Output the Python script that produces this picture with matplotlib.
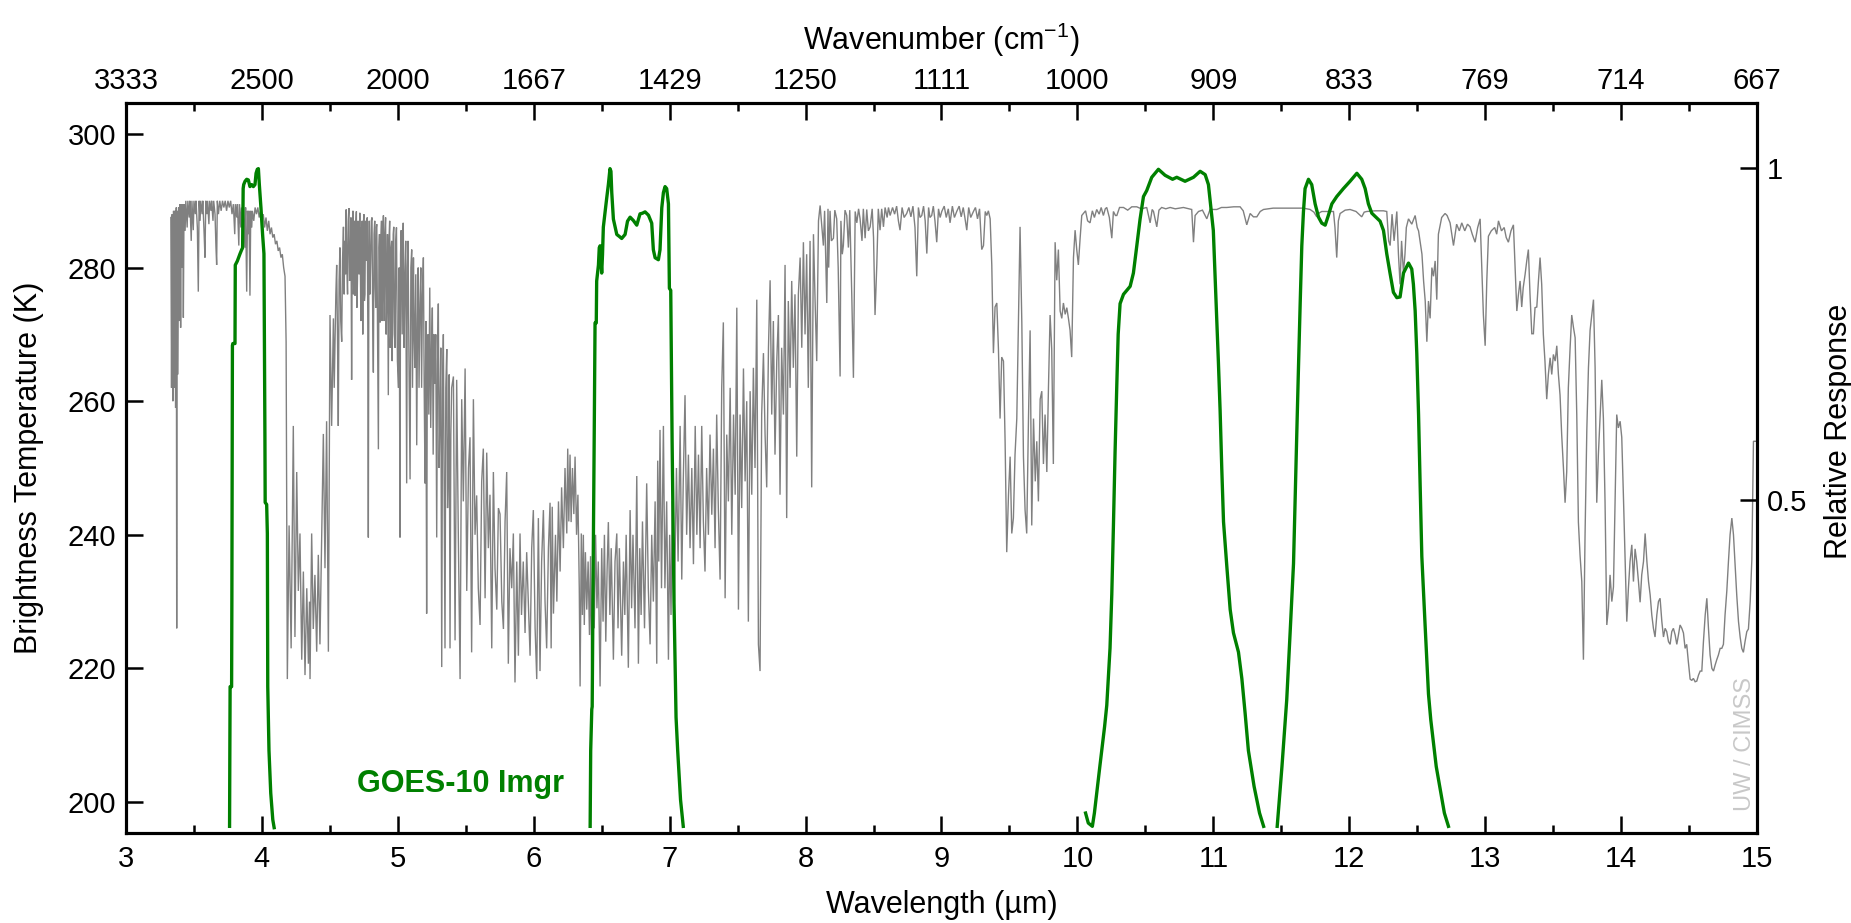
import matplotlib
matplotlib.use("Agg")
import matplotlib.pyplot as plt
from matplotlib.ticker import MultipleLocator, FixedLocator

plt.rcParams['font.family'] = ['Liberation Sans', 'DejaVu Sans']
plt.rcParams['mathtext.fontset'] = 'custom'
plt.rcParams['mathtext.rm'] = 'Liberation Sans'
plt.rcParams['mathtext.default'] = 'regular'

# ---------------- data ----------------
# brightness temperature spectrum (wavelength um, K), by spectral region
bt_swir = [(3.330,287.5),(3.335,262),(3.340,288),(3.345,260),(3.350,288.5),(3.355,262),(3.360,288.5),(3.365,259),(3.370,289),(3.373,226),(3.376,288.5),(3.382,264),(3.387,289),(3.392,272),(3.397,289.5),(3.402,271),(3.407,289.5),(3.413,280),(3.418,289.5),(3.422,272.5),(3.427,289.5),(3.435,285.5),(3.440,290),(3.450,286),(3.455,290),(3.465,287.5),(3.470,290),(3.480,284),(3.485,290),(3.495,285.6),(3.500,290),(3.510,288),(3.515,290),(3.525,286),(3.532,276.4),(3.538,290),(3.545,287),(3.550,290),(3.560,288),(3.565,290),(3.575,285),(3.581,281.5),(3.587,290),(3.595,288),(3.600,290),(3.610,286.5),(3.615,290),(3.625,288.5),(3.630,290),(3.640,287),(3.645,290),(3.655,288),(3.662,283),(3.667,280.4),(3.672,290),(3.680,288),(3.690,290),(3.700,288.5),(3.710,290),(3.720,289),(3.730,290),(3.740,288.5),(3.750,290),(3.760,289),(3.770,290),(3.780,288),(3.790,289.5),(3.800,285),(3.805,289.5),(3.815,287.5),(3.820,289.5),(3.830,283.3),(3.835,289.5),(3.845,286),(3.850,289),(3.860,284),(3.865,289),(3.875,283),(3.880,289),(3.888,276.4),(3.894,288.5),(3.900,285),(3.905,288.5),(3.912,275.8),(3.918,288.5),(3.925,286),(3.930,288.5),(3.940,287),(3.950,289),(3.960,288),(3.970,289),(3.980,287.5),(3.990,288.5),(4.000,287),(4.010,288),(4.020,286),(4.030,287.5),(4.040,285.5),(4.050,287),(4.060,285),(4.070,286),(4.080,284.5),(4.090,285),(4.100,283.5),(4.110,284),(4.120,282.5),(4.130,283),(4.140,281.5),(4.150,282),(4.160,280),(4.170,278.7),(4.178,268.9)]
bt_co2_43 = [(4.187,218.4),(4.200,241.4),(4.215,223),(4.231,256.3),(4.243,224.7),(4.256,249.4),(4.268,231.6),(4.280,240.2),(4.293,221.3),(4.305,234.5),(4.317,219),(4.330,232),(4.342,220.7),(4.350,230),(4.354,218.4),(4.366,240.2),(4.378,225.9),(4.390,234),(4.403,222.5),(4.415,237),(4.427,223.6),(4.440,240),(4.452,255.1),(4.464,235),(4.476,257),(4.489,222.5),(4.501,272.9),(4.513,256.3)]
bt_mwir = [(4.526,272.4),(4.532,262),(4.538,269),(4.544,276),(4.550,280.4),(4.556,270),(4.562,256.3),(4.568,278),(4.574,283),(4.580,272),(4.587,268.9),(4.593,281),(4.600,286.1),(4.605,276),(4.610,284),(4.615,279),(4.620,288.7),(4.625,280),(4.630,276),(4.635,287),(4.640,288.9),(4.645,278),(4.650,280),(4.655,287.5),(4.660,263.2),(4.665,286),(4.670,288.5),(4.674,276),(4.678,279),(4.682,287),(4.685,275.8),(4.690,286),(4.695,288.4),(4.699,274),(4.703,278),(4.707,287),(4.710,286.5),(4.715,279),(4.720,288.2),(4.724,281),(4.728,272),(4.731,286),(4.735,283),(4.738,287),(4.742,270),(4.746,286),(4.750,288),(4.754,275),(4.758,276),(4.762,287),(4.765,281),(4.770,286),(4.775,287.5),(4.779,272),(4.783,239.6),(4.787,282),(4.790,287),(4.795,276),(4.800,281),(4.805,287),(4.810,287.5),(4.815,273),(4.820,264.3),(4.825,285),(4.830,287),(4.834,277),(4.838,274),(4.842,286),(4.845,286.5),(4.851,270),(4.857,252.8),(4.861,283),(4.865,285),(4.870,271.8),(4.875,284),(4.880,287),(4.884,272),(4.887,276),(4.891,286),(4.894,287.8),(4.900,272),(4.905,285),(4.910,287.5),(4.914,270),(4.918,275),(4.924,285),(4.930,260.9),(4.935,284),(4.940,287),(4.944,268),(4.947,270),(4.951,283),(4.955,284),(4.958,266),(4.962,272),(4.966,285),(4.970,286.1),(4.975,270),(4.980,268),(4.985,284),(4.990,286),(4.997,266),(5.005,262),(5.010,280),(5.016,239.6),(5.020,282),(5.025,285.6),(5.032,270),(5.036,284),(5.040,286.7),(5.046,268),(5.052,278.7),(5.058,284),(5.065,247.7),(5.070,280),(5.075,284),(5.082,266),(5.090,248.3),(5.096,280),(5.102,282.7),(5.108,262),(5.115,281.5),(5.120,270),(5.125,265),(5.132,279),(5.139,253.4),(5.145,272),(5.150,280),(5.156,262),(5.163,274.6),(5.169,280),(5.175,262),(5.181,276),(5.188,281.5),(5.194,262),(5.200,247.7),(5.206,272),(5.212,228.2),(5.217,266),(5.222,270),(5.228,258),(5.235,277),(5.242,256),(5.249,268.9),(5.254,274),(5.260,252),(5.266,270),(5.272,262.6),(5.279,270),(5.286,239.6),(5.292,266),(5.298,274.6),(5.304,250),(5.310,258),(5.316,268),(5.323,220.2),(5.329,262),(5.335,270),(5.341,246),(5.347,223),(5.353,262),(5.360,267.8),(5.366,244),(5.372,250),(5.378,264),(5.384,223),(5.390,255),(5.396,262)]
bt_h2o_wing = [(5.409,263.7),(5.421,224.2),(5.433,263.2),(5.445,240),(5.458,218.4),(5.470,260.3),(5.482,245),(5.495,264.9),(5.507,231.6),(5.520,250),(5.531,254.6),(5.543,222.4),(5.556,260.3),(5.568,240),(5.580,245.9),(5.592,232),(5.605,226.5),(5.617,248),(5.629,252.9),(5.642,230.5),(5.654,252.3),(5.666,238),(5.678,246),(5.691,223),(5.703,249.4),(5.715,235),(5.728,228.8),(5.740,244),(5.752,243.1),(5.765,230),(5.777,225.9),(5.789,242),(5.801,249.4),(5.813,220.7),(5.825,238),(5.838,232),(5.850,240.2),(5.862,217.9),(5.875,236),(5.887,221.9),(5.899,240.2),(5.910,228),(5.923,236),(5.936,225.3),(5.948,237.4),(5.960,230),(5.973,221.9),(5.985,238),(5.997,243.7),(6.010,226),(6.022,218.4),(6.034,242.5),(6.046,219.6),(6.058,236),(6.071,243.7),(6.083,230),(6.095,223),(6.108,238)]
bt_h2o_band = [(6.120,244.8),(6.128,223),(6.136,244.2),(6.145,228.2),(6.160,240),(6.170,230),(6.182,245),(6.194,234.5),(6.205,247.1),(6.218,238),(6.230,250),(6.243,240.2),(6.250,252.9),(6.258,242),(6.267,252),(6.275,241.9),(6.285,250),(6.295,243.1),(6.304,251.7),(6.315,240),(6.325,246),(6.335,232),(6.341,217.3),(6.350,240.2),(6.358,228),(6.365,240),(6.372,226.5),(6.380,237.4),(6.390,228.8),(6.400,236),(6.410,225),(6.418,236.8),(6.427,217.9),(6.435,238),(6.445,226),(6.455,240),(6.465,229),(6.475,236),(6.488,217.3),(6.500,238),(6.510,227),(6.520,240),(6.530,224),(6.540,235),(6.549,241.9),(6.560,228),(6.570,238),(6.586,221.3),(6.598,236),(6.611,240.2),(6.620,226),(6.630,238),(6.647,221.9),(6.660,236),(6.670,228),(6.680,240),(6.696,220.1),(6.709,243.7),(6.720,229),(6.730,240),(6.745,226),(6.758,248.8),(6.770,220.7),(6.780,238),(6.790,228),(6.800,242),(6.815,226),(6.831,247.7),(6.843,232),(6.856,223.6),(6.868,240),(6.880,230),(6.893,245),(6.905,220.7),(6.912,251.1),(6.920,236),(6.929,255.7),(6.940,232),(6.954,256.3),(6.965,232),(6.978,245),(6.991,221.3),(7.000,240),(7.010,228)]
bt_window_rise = [(7.020,245),(7.035,230),(7.050,250),(7.062,236),(7.077,256.3),(7.089,233.3),(7.100,248),(7.113,260.9),(7.125,240),(7.138,252),(7.150,238),(7.163,250),(7.175,235.6),(7.188,256.3),(7.200,240),(7.212,252),(7.224,238),(7.236,256.3),(7.248,242),(7.260,234.5),(7.272,250),(7.285,240),(7.297,255),(7.310,243),(7.322,252.9),(7.334,238),(7.346,258),(7.358,244),(7.371,233.3),(7.383,262),(7.395,271.8),(7.408,230.5),(7.420,255),(7.432,245),(7.445,262),(7.457,240),(7.470,258),(7.482,246),(7.494,274),(7.506,228.8),(7.518,258),(7.530,244),(7.543,264.9),(7.555,248),(7.567,260),(7.579,227),(7.592,261.5),(7.604,246),(7.616,265),(7.628,250),(7.641,275.2),(7.653,223.6),(7.665,219.6),(7.677,258),(7.690,267.2),(7.702,255),(7.714,247.1),(7.727,268),(7.739,278.1),(7.751,258),(7.763,272),(7.775,252),(7.788,266),(7.800,272.9),(7.812,246),(7.824,268),(7.837,258),(7.849,280.4),(7.861,242.5),(7.873,275),(7.886,262),(7.898,278),(7.910,265),(7.922,276),(7.935,251.7),(7.947,276),(7.960,281.5),(7.972,268),(7.984,283.8),(7.996,270),(8.008,282),(8.020,262),(8.033,284),(8.045,247.1),(8.058,285),(8.070,275),(8.082,266),(8.095,287),(8.107,289.3)]
bt_window = [(8.120,286),(8.131,283.3),(8.140,288.5),(8.156,274.7),(8.165,288.8),(8.170,280),(8.180,288.5),(8.190,284),(8.205,284.4),(8.215,288.6),(8.229,287.3),(8.240,280),(8.254,263.7),(8.260,287),(8.270,282),(8.278,283.3),(8.290,288.6),(8.303,287.8),(8.315,283),(8.325,288.6),(8.340,275.8),(8.352,263.5),(8.365,288.4),(8.377,286.7),(8.390,288.8),(8.401,287.3),(8.415,284),(8.425,288.8),(8.438,284.4),(8.450,288.7),(8.462,285.5),(8.475,286.1),(8.490,288.8),(8.500,284.5),(8.511,272.9),(8.524,280.4),(8.535,288.8),(8.548,285.6),(8.560,288.8),(8.573,286.1),(8.585,289),(8.600,287.5),(8.610,289),(8.622,287.8),(8.640,289),(8.655,288),(8.670,289.2),(8.683,287),(8.695,285.6),(8.710,289),(8.725,287.5),(8.744,288.1),(8.760,289),(8.775,287.6),(8.790,289.2),(8.805,286),(8.818,278.7),(8.830,289),(8.842,287.5),(8.855,287.8),(8.868,289.2),(8.880,287),(8.892,282.1),(8.905,289),(8.915,287.5),(8.928,287.8),(8.940,289.2),(8.952,287),(8.965,283.8),(8.978,288.8),(8.990,287.5),(9.002,288.4),(9.020,289.2),(9.035,287.5),(9.050,288.8),(9.063,286.7),(9.080,289.2),(9.095,287.5),(9.112,288.4),(9.130,289.2),(9.145,287.6),(9.160,289),(9.172,287.5),(9.186,285.6),(9.200,289),(9.215,287.5),(9.235,288.4),(9.250,289),(9.265,287.3),(9.280,288.8),(9.296,282.7),(9.309,283.3),(9.322,288.4),(9.333,287.8),(9.345,288.5),(9.358,287.3)]
bt_ozone = [(9.370,280.4),(9.382,267.2),(9.394,274.1),(9.407,274.7),(9.419,267.8),(9.431,257.4),(9.443,266.6),(9.456,266),(9.468,254),(9.480,237.4),(9.493,246),(9.505,251.7),(9.517,240.2),(9.529,242.5),(9.541,252),(9.554,257.4),(9.566,271.8),(9.578,286.1),(9.591,271.8),(9.603,251.7),(9.615,243.7),(9.627,240.2),(9.640,257.4),(9.652,270.6),(9.664,241.4),(9.677,257.4),(9.690,248),(9.701,254),(9.713,245),(9.726,260.3),(9.738,261.5),(9.750,250.6),(9.762,258),(9.775,249.4),(9.787,262),(9.799,272.9),(9.811,267.8),(9.823,250.6),(9.836,283.8),(9.848,278.1),(9.860,282.7),(9.873,273.5),(9.885,272.4),(9.897,274.7),(9.910,273),(9.922,274),(9.934,272.4),(9.946,270.6),(9.958,266.6),(9.971,281.5),(9.983,285.6),(9.995,282.7),(10.007,280.4),(10.020,284.4),(10.032,287.8),(10.044,288.1)]
bt_window_long = [(10.060,288.5),(10.075,287),(10.093,286.7),(10.110,288.5),(10.125,287.5),(10.142,288.7),(10.160,288),(10.175,289),(10.191,287.8),(10.205,288.8),(10.216,289),(10.235,287.5),(10.253,284.4),(10.265,288.4),(10.280,287.8),(10.290,287.8),(10.310,289),(10.339,289),(10.370,288.6),(10.400,289.1),(10.437,289.1),(10.470,288.8),(10.510,289),(10.535,286.7),(10.550,288.7),(10.560,288.4),(10.584,286.1),(10.600,288.6),(10.620,289),(10.650,288.8),(10.682,289),(10.720,288.8),(10.780,289),(10.820,288.8),(10.841,288.7),(10.854,283.8),(10.866,287.8),(10.891,288.4),(10.920,288.6),(10.952,287.3),(10.976,288.7),(11.025,288.7),(11.060,289),(11.099,289),(11.150,289.1),(11.197,289.1),(11.220,288.5),(11.246,286.4),(11.271,288.1),(11.295,287.6),(11.320,287.6),(11.345,288.4),(11.369,288.7),(11.440,288.9),(11.516,288.9),(11.590,288.9),(11.663,288.9),(11.712,288.7),(11.740,288.3),(11.761,287.6),(11.780,288.2),(11.798,288.4),(11.840,288.4),(11.884,288.4),(11.895,286),(11.908,281.5),(11.920,287),(11.933,288.1),(11.970,288.6),(12.006,288.7),(12.050,288.4),(12.092,287.6),(12.110,288.3),(12.129,288.4),(12.190,288.5),(12.252,288.5),(12.276,288.4)]
bt_split = [(12.290,284),(12.301,283.3),(12.315,288),(12.330,284),(12.350,288.4),(12.362,282),(12.374,277.5),(12.385,284),(12.399,279.2),(12.410,282),(12.420,286),(12.436,287.3),(12.460,286.5),(12.485,287.8),(12.500,286),(12.510,285.5),(12.522,283.8),(12.535,282),(12.547,278),(12.559,275),(12.571,268.9),(12.583,275),(12.595,272.4),(12.608,280),(12.620,278.7),(12.632,281),(12.644,275.2),(12.656,285),(12.680,287.5),(12.705,288.1),(12.720,287.8),(12.742,286.7)]
bt_co2_15 = [(12.767,283.3),(12.790,286.5),(12.810,285.5),(12.828,286.7),(12.850,285.5),(12.870,286.5),(12.889,286.1),(12.905,285),(12.926,283.8),(12.945,286),(12.963,287.3),(12.975,280),(12.987,272.9),(13.000,268.3),(13.012,278),(13.024,284.7),(13.045,285.5),(13.070,286),(13.085,285),(13.098,287),(13.120,285.5),(13.140,286),(13.155,284.5),(13.171,283.8),(13.190,285.5),(13.208,286.4),(13.220,280),(13.233,273.5),(13.245,276),(13.257,278),(13.269,274.1),(13.280,277),(13.294,279),(13.306,281),(13.318,282.7),(13.330,276),(13.343,270.1),(13.355,270.1),(13.367,274),(13.380,274.1),(13.392,278),(13.404,281.5),(13.416,277.5),(13.428,270),(13.440,266),(13.453,260.3),(13.465,264),(13.478,266.5),(13.490,264),(13.502,267),(13.515,266),(13.527,268.3),(13.539,264),(13.551,260.9),(13.563,255),(13.576,250),(13.588,244.8),(13.600,249.4),(13.612,262),(13.625,268),(13.637,272.9),(13.650,271),(13.662,269.5),(13.674,258),(13.686,241.9),(13.698,237),(13.711,233),(13.723,221.3),(13.735,240),(13.748,255.7),(13.760,265),(13.772,270.6),(13.785,273),(13.797,275.2),(13.809,265),(13.821,244.8),(13.833,252),(13.846,258),(13.858,263.2),(13.870,257.4),(13.882,245),(13.895,226.5),(13.907,229),(13.919,234),(13.932,230),(13.944,232.2),(13.956,245),(13.968,258),(13.980,256),(13.993,257),(14.005,254.6),(14.017,246),(14.030,236),(14.042,227),(14.054,232),(14.066,236),(14.079,238.5),(14.091,233),(14.103,237.9),(14.115,236),(14.128,233),(14.140,229.9),(14.152,234),(14.165,236),(14.177,240.2),(14.190,236),(14.202,233),(14.214,231),(14.226,228),(14.238,226),(14.250,224.7),(14.263,228),(14.275,230),(14.287,230.5),(14.300,227),(14.312,224.7),(14.324,226),(14.336,225.5),(14.349,224),(14.361,223.6),(14.373,225.5),(14.385,226),(14.398,225),(14.410,223.6),(14.422,225),(14.434,226.5),(14.447,226),(14.459,225.3),(14.471,223),(14.483,223.6),(14.495,221),(14.508,218.4),(14.520,218.2),(14.532,218.5),(14.545,218),(14.557,218.1),(14.570,219),(14.582,219.6),(14.594,219.6),(14.606,224),(14.619,228),(14.631,230.5),(14.643,226),(14.655,222),(14.668,220),(14.680,219.6),(14.692,220.5),(14.704,221.3),(14.716,222),(14.729,223),(14.741,223),(14.753,223.6),(14.765,228),(14.778,231.6),(14.790,236),(14.802,240),(14.815,242.5),(14.827,240),(14.839,235.6),(14.851,231),(14.864,227),(14.876,224.7),(14.888,223),(14.900,222.4),(14.912,224),(14.925,225.5),(14.937,225.9),(14.950,230),(14.962,236.2),(14.974,254),(14.990,254)]

# GOES-10 imager spectral response functions (wavelength um, relative response)
srf_ch2_wl = [3.762, 3.764, 3.766, 3.777, 3.779, 3.783, 3.786, 3.802, 3.804, 3.819, 3.839, 3.851, 3.858, 3.862, 3.866, 3.876, 3.888, 3.900, 3.912, 3.925, 3.937, 3.949, 3.957, 3.966, 3.974, 3.981, 3.993, 4.005, 4.015, 4.022, 4.024, 4.035, 4.040, 4.043, 4.052, 4.065, 4.080, 4.090]
srf_ch2_rr = [0.01, 0.12, 0.22, 0.22, 0.35, 0.733, 0.736, 0.736, 0.854, 0.86, 0.871, 0.877, 0.88, 0.969, 0.975, 0.98, 0.983, 0.982, 0.972, 0.975, 0.972, 0.975, 0.992, 0.998, 0.999, 0.975, 0.94, 0.9, 0.871, 0.6, 0.497, 0.494, 0.45, 0.22, 0.124, 0.06, 0.02, 0.008]
srf_ch3_wl = [6.415, 6.419, 6.427, 6.430, 6.439, 6.445, 6.451, 6.460, 6.463, 6.476, 6.482, 6.488, 6.495, 6.500, 6.506, 6.512, 6.525, 6.537, 6.549, 6.561, 6.568, 6.574, 6.586, 6.598, 6.611, 6.630, 6.647, 6.672, 6.690, 6.709, 6.733, 6.758, 6.782, 6.800, 6.819, 6.844, 6.868, 6.880, 6.893, 6.917, 6.929, 6.942, 6.954, 6.966, 6.978, 6.991, 6.998, 7.008, 7.018, 7.032, 7.047, 7.059, 7.080, 7.100]
srf_ch3_rr = [0.01, 0.124, 0.186, 0.19, 0.445, 0.6, 0.767, 0.767, 0.83, 0.854, 0.88, 0.883, 0.86, 0.842, 0.87, 0.911, 0.934, 0.955, 0.975, 0.999, 0.995, 0.963, 0.923, 0.912, 0.9, 0.897, 0.894, 0.9, 0.92, 0.926, 0.921, 0.914, 0.931, 0.932, 0.934, 0.929, 0.917, 0.877, 0.865, 0.862, 0.877, 0.94, 0.963, 0.972, 0.969, 0.946, 0.819, 0.816, 0.589, 0.347, 0.174, 0.124, 0.05, 0.01]
srf_ch4_wl = [10.06, 10.08, 10.11, 10.125, 10.165, 10.20, 10.216, 10.24, 10.253, 10.265, 10.277, 10.29, 10.30, 10.314, 10.339, 10.388, 10.412, 10.437, 10.461, 10.486, 10.51, 10.547, 10.596, 10.645, 10.70, 10.731, 10.792, 10.854, 10.903, 10.94, 10.964, 10.976, 11.0, 11.013, 11.025, 11.037, 11.05, 11.062, 11.075, 11.1, 11.124, 11.148, 11.185, 11.21, 11.234, 11.258, 11.30, 11.34, 11.37]
srf_ch4_rr = [0.03, 0.015, 0.01, 0.03, 0.1, 0.16, 0.192, 0.278, 0.359, 0.462, 0.572, 0.675, 0.75, 0.796, 0.81, 0.822, 0.842, 0.883, 0.923, 0.957, 0.966, 0.986, 0.998, 0.989, 0.983, 0.986, 0.98, 0.986, 0.995, 0.99, 0.975, 0.952, 0.906, 0.837, 0.773, 0.71, 0.635, 0.549, 0.468, 0.399, 0.336, 0.301, 0.272, 0.232, 0.18, 0.124, 0.07, 0.03, 0.01]
srf_ch5_wl = [11.47, 11.505, 11.54, 11.565, 11.59, 11.602, 11.614, 11.627, 11.639, 11.651, 11.663, 11.675, 11.70, 11.724, 11.749, 11.774, 11.798, 11.823, 11.847, 11.872, 11.908, 11.957, 12.006, 12.056, 12.092, 12.117, 12.141, 12.166, 12.227, 12.252, 12.276, 12.30, 12.325, 12.35, 12.374, 12.399, 12.436, 12.46, 12.472, 12.485, 12.497, 12.51, 12.522, 12.534, 12.558, 12.583, 12.60, 12.64, 12.70, 12.73]
srf_ch5_rr = [0.01, 0.1, 0.2, 0.301, 0.405, 0.502, 0.6, 0.704, 0.796, 0.883, 0.934, 0.969, 0.983, 0.975, 0.946, 0.926, 0.917, 0.914, 0.929, 0.946, 0.957, 0.969, 0.98, 0.992, 0.983, 0.969, 0.946, 0.932, 0.92, 0.906, 0.871, 0.842, 0.813, 0.805, 0.806, 0.842, 0.857, 0.848, 0.825, 0.785, 0.721, 0.629, 0.52, 0.416, 0.313, 0.209, 0.17, 0.1, 0.03, 0.01]

wavelength_ticks = [3, 4, 5, 6, 7, 8, 9, 10, 11, 12, 13, 14, 15]
wavenumber_labels = ['3333', '2500', '2000', '1667', '1429', '1250', '1111', '1000', '909', '833', '769', '714', '667']
bt_ticks = [200, 220, 240, 260, 280, 300]
rr_ticks = [0.5, 1.0]
rr_labels = ['0.5', '1']

bt_segments = [bt_swir, bt_co2_43, bt_mwir, bt_h2o_wing, bt_h2o_band, bt_window_rise,
               bt_window, bt_ozone, bt_window_long, bt_split, bt_co2_15]
bt_wl = [p[0] for seg in bt_segments for p in seg]
bt_k = [p[1] for seg in bt_segments for p in seg]

# ---------------- figure ----------------
GRAY = '#808080'
GREEN = '#008000'
SPINE_W = 2.2
fig = plt.figure(figsize=(18.51, 9.23), dpi=100)
ax = fig.add_axes([0.06807, 0.09751, 0.88114, 0.79090])

ax.plot(bt_wl, bt_k, color=GRAY, lw=1.0, solid_joinstyle='miter')
ax.set_xlim(3, 15)
ax.set_ylim(195.36, 304.64)

ax2 = ax.twinx()
for wl, rr in [(srf_ch2_wl, srf_ch2_rr), (srf_ch3_wl, srf_ch3_rr),
               (srf_ch4_wl, srf_ch4_rr), (srf_ch5_wl, srf_ch5_rr)]:
    ax2.plot(wl, rr, color=GREEN, lw=2.4)
ax2.set_ylim(0, 1.0977)
ax2.set_xlim(3, 15)

ax3 = ax.twiny()
ax3.set_xlim(3, 15)

# ticks
ax.xaxis.set_major_locator(FixedLocator(wavelength_ticks))
ax.set_xticklabels([str(t) for t in wavelength_ticks])
ax.xaxis.set_minor_locator(MultipleLocator(0.5))
ax.yaxis.set_major_locator(FixedLocator(bt_ticks))
ax.set_yticklabels([str(t) for t in bt_ticks])
ax.tick_params(axis='both', which='both', direction='in', width=1.8, labelsize=21,
               top=False, right=False)
ax.tick_params(axis='x', which='major', length=12, pad=9)
ax.tick_params(axis='x', which='minor', length=6)
ax.tick_params(axis='y', which='major', length=12, pad=7)
ax.tick_params(axis='y', which='minor', length=0)

ax3.xaxis.set_major_locator(FixedLocator(wavelength_ticks))
ax3.set_xticklabels(wavenumber_labels)
ax3.xaxis.set_minor_locator(MultipleLocator(0.5))
ax3.tick_params(axis='x', which='both', direction='in', width=1.8, labelsize=21)
ax3.tick_params(axis='x', which='major', length=12, pad=6)
ax3.tick_params(axis='x', which='minor', length=6)

ax2.yaxis.set_major_locator(FixedLocator(rr_ticks))
ax2.set_yticklabels(rr_labels)
ax2.tick_params(axis='y', which='major', direction='in', width=1.8, length=12,
                labelsize=21, pad=7)

for a in (ax, ax2, ax3):
    for s in a.spines.values():
        s.set_linewidth(SPINE_W)

# labels
ax.set_xlabel('Wavelength (\u00b5m)', fontsize=22)
ax.xaxis.set_label_coords(0.5, -0.078)
ax3.set_xlabel('Wavenumber (cm$^{-1}$)', fontsize=22)
ax3.xaxis.set_label_coords(0.5, 1.072)
ax.set_ylabel('Brightness Temperature (K)', fontsize=22)
ax.yaxis.set_label_coords(-0.050, 0.5)
ax2.set_ylabel('Relative Response', fontsize=22)
ax2.yaxis.set_label_coords(1.041, 0.55)

ax.text(4.70, 202.7, 'GOES-10 Imgr', color=GREEN, fontsize=22, fontweight='bold',
        ha='left', va='center')
ax.text(14.91, 208.7, 'UW / CIMSS', color='#c8c8c8', fontsize=17, rotation=90,
        ha='center', va='center')

fig.savefig('out.png', dpi=100)
